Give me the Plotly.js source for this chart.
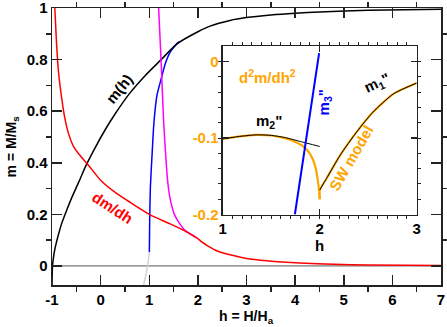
<!DOCTYPE html>
<html>
<head>
<meta charset="utf-8">
<script src="https://cdn.plot.ly/plotly-3.0.1.min.js"></script>
<style>
  html, body { margin: 0; padding: 0; background: #fff; }
  #graph { width: 447px; height: 327px; }
</style>
</head>
<body>
<div id="graph"></div>
<script>
// ---- main panel: m(h), dm/dh and the two branches near h = 1..2 ----
const m_h     = [-1.0, -0.99, -0.96, -0.93, -0.87, -0.8, -0.7, -0.6, -0.45, -0.3, -0.1, 0.1, 0.3, 0.6, 0.9, 1.24, 1.57, 2.0, 2.25, 2.66, 3.0, 3.5, 4.0, 4.5, 5.5, 7.0];
const m_val   = [-0.074, 0.0, 0.045, 0.075, 0.12, 0.165, 0.215, 0.262, 0.325, 0.39, 0.463, 0.53, 0.59, 0.67, 0.735, 0.799, 0.861, 0.908, 0.93, 0.952, 0.963, 0.973, 0.98, 0.985, 0.991, 0.995];

const dm_h1   = [-0.942, -0.908, -0.867, -0.805, -0.743, -0.661, -0.558, -0.414, -0.27, 0.01, 0.32, 0.61, 1.02, 1.43, 1.74, 2.0];
const dm_val1 = [1.0, 0.868, 0.753, 0.657, 0.58, 0.514, 0.464, 0.426, 0.395, 0.33, 0.282, 0.246, 0.198, 0.163, 0.135, 0.106];
const dm_h2   = [2.0, 2.1, 2.2, 2.4, 2.73, 3.0, 3.42, 4.1, 4.79, 5.5, 7.0];
const dm_val2 = [0.106, 0.09, 0.078, 0.058, 0.040, 0.029, 0.02, 0.011, 0.006, 0.004, 0.002];

const mag_h   = [1.193, 1.243, 1.296, 1.337, 1.378, 1.42, 1.469, 1.516, 1.605, 1.742, 1.982];
const mag_val = [1.0, 0.798, 0.56, 0.432, 0.33, 0.27, 0.228, 0.2, 0.17, 0.137, 0.109];

const blue_h   = [1.002, 1.009, 1.023, 1.058, 1.098, 1.16, 1.243, 1.331, 1.434, 1.571, 1.62];
const blue_val = [0.054, 0.176, 0.304, 0.432, 0.56, 0.663, 0.724, 0.785, 0.830, 0.862, 0.87];

const gray_h   = [0.885, 0.93, 0.968, 1.002];
const gray_val = [-0.074, -0.035, 0.003, 0.054];

// ---- inset: d2m/dh2 ----
const sw_h1   = [1.0, 1.2, 1.35, 1.5, 1.65, 1.75, 1.82, 1.88, 1.93, 1.96, 1.98, 1.995, 2.0];
const sw_val1 = [-0.101, -0.0975, -0.0958, -0.0967, -0.1005, -0.105, -0.110, -0.117, -0.128, -0.140, -0.155, -0.170, -0.180];
const sw_h2   = [2.0, 2.001, 2.07, 2.21, 2.38, 2.55, 2.76, 3.0];
const sw_val2 = [-0.180, -0.168, -0.153, -0.1226, -0.0922, -0.066, -0.0422, -0.028];

const m2_h   = [1.0, 1.2, 1.35, 1.5, 1.65, 1.8, 2.0];
const m2_val = [-0.101, -0.0975, -0.0958, -0.0965, -0.0995, -0.1045, -0.111];
const m1_h   = [2.0, 2.07, 2.21, 2.38, 2.55, 2.76, 3.0];
const m1_val = [-0.168, -0.153, -0.1226, -0.0922, -0.066, -0.0422, -0.028];
const m3_h   = [1.744, 1.994];
const m3_val = [-0.2, 0.011];

// tick labels
const main_xticks = [-1, 0, 1, 2, 3, 4, 5, 6, 7];
const main_xtext  = ['-1', '0', '1', '2', '3', '4', '5', '6', '7'];
const main_yticks = [0, 0.2, 0.4, 0.6, 0.8, 1];
const main_ytext  = ['0', '0.2', '0.4', '0.6', '0.8', '1'];
const ins_xticks  = [1, 2, 3];
const ins_xtext   = ['1', '2', '3'];
const ins_yticks  = [0, -0.1, -0.2];
const ins_ytext   = ['0', '-0.1', '-0.2'];

const FONT = 'Liberation Sans, Arial, Helvetica, sans-serif';
const ORANGE = '#ffa500';

const font = (size, color) => ({family: FONT, size: size, color: color});
const b = s => '<b>' + s + '</b>';

const line = (x, y, color, width, inset) => ({
    x: x, y: y,
    type: 'scatter', mode: 'lines',
    line: {color: color, width: width, shape: 'spline', smoothing: 0.6},
    xaxis: inset ? 'x2' : 'x', yaxis: inset ? 'y2' : 'y',
    hoverinfo: 'skip', showlegend: false
});

const data = [
    // zero line
    {x: [-1, 7], y: [0, 0], type: 'scatter', mode: 'lines', line: {color: '#555', width: 1}, hoverinfo: 'skip', showlegend: false},
    line(gray_h, gray_val, '#d3d3d3', 1.5),
    line(blue_h, blue_val, '#0000ff', 1.5),
    line(m_h, m_val, '#000000', 1.5),
    line(mag_h, mag_val, '#ff00ff', 1.5),
    line(dm_h1, dm_val1, '#ff0000', 1.5),
    line(dm_h2, dm_val2, '#ff0000', 1.5),

    line(sw_h1, sw_val1, ORANGE, 2.2, true),
    line(sw_h2, sw_val2, ORANGE, 2.2, true),
    line(m2_h, m2_val, '#000000', 1, true),
    line(m1_h, m1_val, '#000000', 1, true),
    line(m3_h, m3_val, '#0000ff', 2, true)
];

const axisBase = {
    showline: true, mirror: 'ticks', linecolor: '#222', linewidth: 1.5,
    ticks: 'inside', tickcolor: '#222', tickwidth: 1.5,
    showgrid: false, zeroline: false, tickmode: 'array',
    ticklabeloverflow: 'allow'
};

const layout = {
    width: 447, height: 327,
    margin: {l: 52, r: 6, t: 8, b: 42},
    paper_bgcolor: '#fff', plot_bgcolor: '#fff',
    font: font(15, '#000'),
    xaxis: Object.assign({}, axisBase, {
        range: [-1, 7], tickvals: main_xticks, ticktext: main_xtext.map(b), ticklen: 10,
        minor: {tickvals: [-0.5, 0.5, 1.5, 2.5, 3.5, 4.5, 5.5, 6.5], ticklen: 5, tickcolor: '#222', tickwidth: 1.5},
        tickfont: font(15, '#000')
    }),
    yaxis: Object.assign({}, axisBase, {
        range: [-0.074, 1.0002], tickvals: main_yticks, ticktext: main_ytext.map(b), ticklen: 10,
        minor: {tickvals: [0.1, 0.3, 0.5, 0.7, 0.9], ticklen: 5, tickcolor: '#222', tickwidth: 1.5},
        tickfont: font(15, '#000')
    }),
    xaxis2: Object.assign({}, axisBase, {
        domain: [0.4388, 0.9375], anchor: 'y2', linewidth: 1.2, tickwidth: 1.2,
        range: [1, 3], tickvals: ins_xticks, ticktext: ins_xtext.map(b), ticklen: 6,
        minor: {dtick: 0.1, tick0: 1, ticklen: 3, tickcolor: '#222', tickwidth: 1},
        tickfont: font(15, '#000'),
        title: {text: b('h'), font: font(15, '#000'), standoff: 2}
    }),
    yaxis2: Object.assign({}, axisBase, {
        domain: [0.2545, 0.8617], anchor: 'x2', linewidth: 1.2, tickwidth: 1.2,
        range: [-0.2, 0.02], tickvals: ins_yticks, ticktext: ins_ytext.map(b), ticklen: 6,
        minor: {dtick: 0.02, tick0: 0, ticklen: 3, tickcolor: '#222', tickwidth: 1},
        tickfont: font(15, ORANGE)
    }),
    annotations: [
        // axis titles of the main panel
        {x: 0.5, y: -0.117, xref: 'paper', yref: 'paper', text: 'h = H/H<sub>a</sub>', font: font(14, '#000')},
        {x: -0.103, y: 0.5, xref: 'paper', yref: 'paper', text: 'm = M/M<sub>s</sub>', textangle: -90, font: font(14, '#000')},
        // curve labels
        {x: 0.386, y: 0.687, xref: 'x', yref: 'y', text: 'm(h)', textangle: -51, font: font(15, '#000')},
        {x: 0.243, y: 0.226, xref: 'x', yref: 'y', text: 'dm/dh', textangle: 33, font: font(15, '#ff0000')},
        {x: 1.466, y: -0.019, xref: 'x2', yref: 'y2', text: 'd<sup>2</sup>m/dh<sup>2</sup>', font: font(15, ORANGE)},
        {x: 1.476, y: -0.078, xref: 'x2', yref: 'y2', text: 'm<sub>2</sub>"', font: font(15, '#000')},
        {x: 2.05, y: -0.054, xref: 'x2', yref: 'y2', text: 'm<sub>3</sub>"', textangle: -90, font: font(15, '#0000ff')},
        {x: 2.59, y: -0.028, xref: 'x2', yref: 'y2', text: 'm<sub>1</sub>"', textangle: -25, font: font(15, '#000')},
        {x: 2.33, y: -0.126, xref: 'x2', yref: 'y2', text: 'SW model', textangle: -60, font: font(15, ORANGE)}
    ].map(a => Object.assign({showarrow: false, xanchor: 'center', yanchor: 'middle'}, a, {text: b(a.text)}))
};

Plotly.newPlot('graph', data, layout, {staticPlot: true, displayModeBar: false});
</script>
</body>
</html>
